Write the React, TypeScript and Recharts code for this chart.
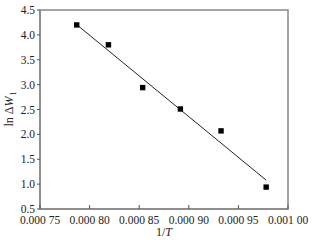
import {
  ScatterChart,
  Scatter,
  XAxis,
  YAxis,
  ReferenceArea,
} from 'recharts'

// 1/T values and ln ΔW1 measurements
const invT = [0.000787, 0.000819, 0.0008535, 0.0008915, 0.0009325, 0.000978]
const lnDW = [4.2, 3.8, 2.94, 2.51, 2.07, 0.94]

// fitted straight line end points
const fitX = [0.000788, 0.000978]
const fitY = [4.19, 1.08]

const xTicks = [0.00075, 0.0008, 0.00085, 0.0009, 0.00095, 0.001]
const yTicks = [0.5, 1.0, 1.5, 2.0, 2.5, 3.0, 3.5, 4.0, 4.5]

const points = invT.map((x, i) => ({ x, y: lnDW[i] }))
const fit = fitX.map((x, i) => ({ x, y: fitY[i] }))

const FONT = '"Liberation Serif", "DejaVu Serif", serif'

// "0.00075" -> "0.000 75"
const fmtX = (v: number) => {
  const s = v.toFixed(5)
  return s.slice(0, 5) + ' ' + s.slice(5)
}

const XTick = (props: any) => {
  const { x, y, payload } = props
  return (
    <g>
      <line x1={x} y1={y} x2={x} y2={y - 4} stroke='#555' strokeWidth={1} />
      <text
        x={x}
        y={y + 15}
        textAnchor='middle'
        fontFamily={FONT}
        fontSize={11.5}
        fill='#222'
      >
        {fmtX(payload.value)}
      </text>
    </g>
  )
}

const YLabel = () => (
  <text
    x={0}
    y={0}
    transform='translate(13, 109) rotate(-90)'
    textAnchor='middle'
    fontFamily={FONT}
    fontSize={12}
    fill='#222'
  >
    <tspan>ln Δ</tspan>
    <tspan fontStyle='italic'>W</tspan>
    <tspan fontSize={8} dx={1} dy={3}>
      1
    </tspan>
  </text>
)

// small filled square marker, centred on the scaled point
const Square = (props: any) => {
  const { cx, cy } = props
  return <rect x={cx - 2.7} y={cy - 2.7} width={5.4} height={5.4} fill='#000' />
}

export default function App() {
  return (
    <div style={{ position: 'absolute', left: 0, top: 0, background: '#fff' }}>
      <ScatterChart
        width={316}
        height={245}
        margin={{ top: 10, right: 28, left: 0, bottom: 0 }}
      >
        <XAxis
          type='number'
          dataKey='x'
          domain={[0.00075, 0.001]}
          ticks={xTicks}
          height={36}
          tickSize={0}
          tickMargin={0}
          tickLine={false}
          tick={<XTick />}
          axisLine={{ stroke: '#888', strokeWidth: 1.5 }}
          interval={0}
          allowDataOverflow
        />
        <YAxis
          type='number'
          dataKey='y'
          domain={[0.5, 4.5]}
          ticks={yTicks}
          width={40}
          tickSize={3}
          tickMargin={2}
          interval={0}
          tickFormatter={(v: number) => v.toFixed(1)}
          tick={{ fontFamily: FONT, fontSize: 11.5, fill: '#222' }}
          tickLine={{ stroke: '#555' }}
          axisLine={{ stroke: '#888', strokeWidth: 1.5 }}
          label={<YLabel />}
          allowDataOverflow
        />
        <ReferenceArea
          x1={0.00075}
          x2={0.001}
          y1={0.5}
          y2={4.5}
          fill='none'
          fillOpacity={0}
          stroke='#888'
          strokeWidth={1.5}
        />
        <Scatter
          data={fit}
          line={{ stroke: '#222', strokeWidth: 1 }}
          shape={() => null}
          isAnimationActive={false}
        />
        <Scatter data={points} shape={<Square />} isAnimationActive={false} />
        <text
          x={164}
          y={236}
          textAnchor='middle'
          fontFamily={FONT}
          fontSize={12}
          fill='#222'
        >
          1/<tspan fontStyle='italic'>T</tspan>
        </text>
      </ScatterChart>
    </div>
  )
}
